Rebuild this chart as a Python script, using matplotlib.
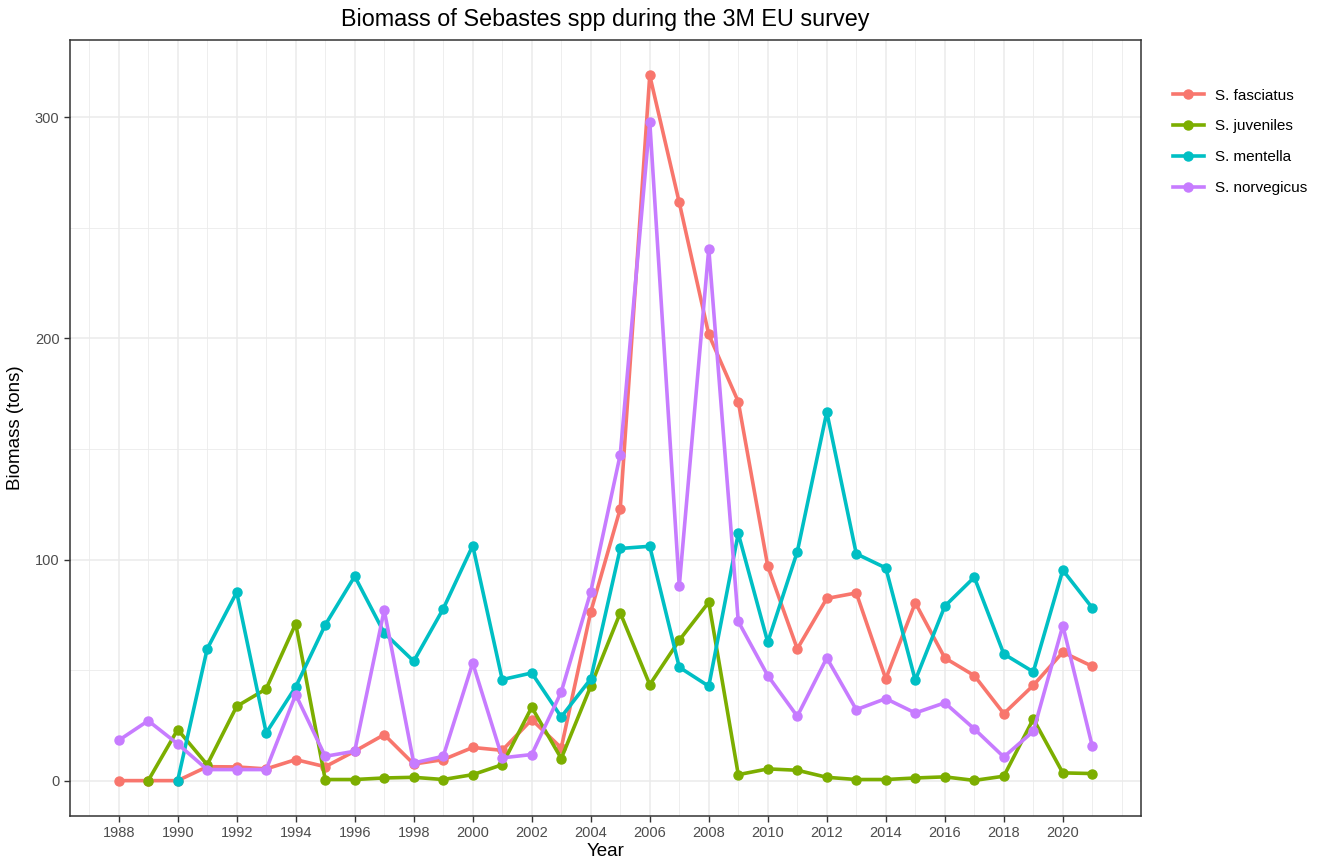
import numpy as np
import matplotlib
matplotlib.use("Agg")
import matplotlib.pyplot as plt
from matplotlib.ticker import MultipleLocator

plt.rcParams['font.family'] = ['Liberation Sans', 'DejaVu Sans']

years = list(range(1988, 2022))
nan = np.nan

fasciatus = [0, 0, 0, 6.3, 6.2, 5.3, 9.5, 6.3, 13.3, 20.8, 7.5, 9.5, 15, 13.7, 27.6, 14.8,
             76.3, 123, 319, 261.5, 201.8, 171.4, 97, 59.6, 82.4, 84.9, 46, 80.4, 55.5, 47.5,
             30.3, 43.1, 58.1, 51.7]
juveniles = [nan, 0, 23.1, 7.2, 33.6, 41.5, 71, 0.5, 0.5, 1.2, 1.5, 0.5, 2.7, 7.2, 33.2, 10,
             42.7, 75.9, 43.4, 63.5, 80.7, 2.7, 5.3, 4.7, 1.5, 0.5, 0.5, 1.2, 1.7, 0.1,
             2, 27.9, 3.5, 3.2]
mentella = [nan, nan, 0, 59.6, 85.2, 21.6, 42.4, 70.4, 92.4, 66.8, 54, 77.7, 106.3, 45.7, 48.7, 28.8,
            46, 105, 106, 51.3, 42.7, 111.8, 62.6, 103.5, 166.7, 102.6, 96.2, 45.4, 78.9, 92,
            57.3, 49.2, 95.2, 78.1]
norvegicus = [18.2, 27.1, 16.6, 5, 5, 5, 38.9, 11, 13.3, 77.1, 8, 11, 53.2, 10.3, 11.8, 40.1,
              85.4, 147.5, 298, 88, 240.6, 72, 47.5, 29.1, 55.5, 32.1, 37.1, 30.6, 35.2, 23.4,
              10.7, 22.3, 70.1, 15.5]

series = [("S. fasciatus", fasciatus, "#F8766D"),
          ("S. juveniles", juveniles, "#7CAE00"),
          ("S. mentella", mentella, "#00BFC4"),
          ("S. norvegicus", norvegicus, "#C77CFF")]

fig = plt.figure(figsize=(13.29, 8.67), dpi=100)
ax = fig.add_axes([70 / 1329, 1 - 816 / 867, (1141 - 70) / 1329, (816 - 40) / 867])

for name, vals, col in series:
    ax.plot(years, vals, "-", color=col, label=name, lw=2.6, marker="o", ms=6.5)

ax.set_xlim(1986.35, 2022.65)
ax.set_ylim(-16, 335)
ax.xaxis.set_minor_locator(MultipleLocator(1))
ax.set_xticks(range(1988, 2021, 2))
ax.yaxis.set_major_locator(MultipleLocator(100))
ax.yaxis.set_minor_locator(MultipleLocator(50))

ax.grid(which="major", color="#EBEBEB", lw=1.1)
ax.grid(which="minor", color="#EBEBEB", lw=0.6)
ax.set_axisbelow(True)
for s in ax.spines.values():
    s.set_color("#333333")
    s.set_linewidth(1.1)
ax.tick_params(which="major", length=4, width=1, color="#333333", labelcolor="#4D4D4D", labelsize=10.5)
ax.tick_params(which="minor", length=0)

ax.set_xlabel("Year", fontsize=13.5, labelpad=2)
ax.set_ylabel("Biomass (tons)", fontsize=13.5, labelpad=8)
ax.set_title("Biomass of Sebastes spp during the 3M EU survey", fontsize=16.8, pad=10)

ax.legend(loc="upper left", bbox_to_anchor=(1.017, 0.955), frameon=False, fontsize=11,
          handlelength=2, handletextpad=0.75, labelspacing=1.1)

fig.savefig("out.png", dpi=100)
